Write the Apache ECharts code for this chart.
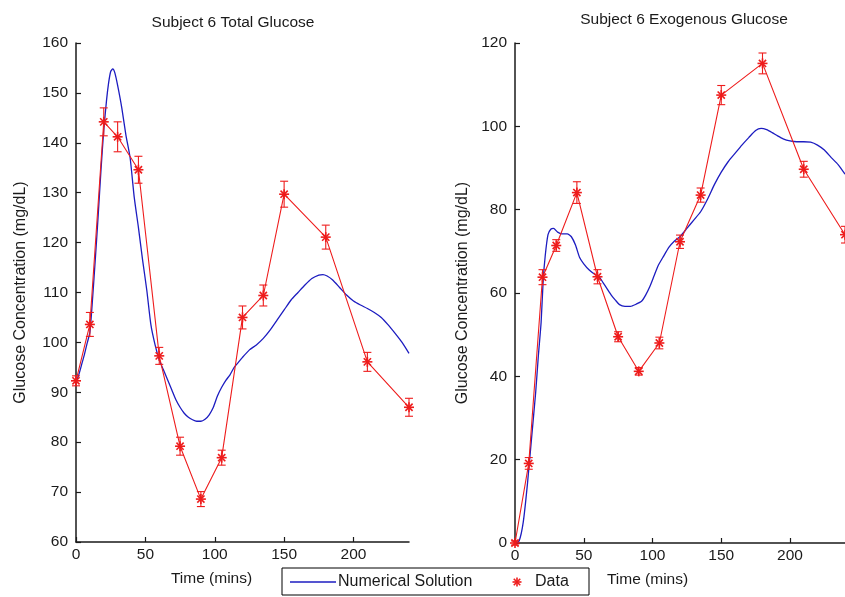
<!DOCTYPE html>
<html>
<head>
<meta charset="utf-8">
<script src="https://cdn.jsdelivr.net/npm/echarts@6/dist/echarts.min.js"></script>
<style>
  html, body { margin: 0; padding: 0; background: #fff; }
  #chart { width: 845px; height: 597px; }
</style>
</head>
<body>
<div id="chart"></div>
<script>
// Sampling times of the measured data (minutes)
const sampleTimes = [0, 10, 20, 30, 45, 60, 75, 90, 105, 120, 135, 150, 180, 210, 240];

// Total glucose: measured values and error bar half-widths (mg/dL)
const totalData = [92.3, 103.6, 144.2, 141.2, 134.6, 97.3, 79.2, 68.6, 76.9, 105.0, 109.4, 129.7, 121.1, 96.1, 87.0];
const totalErr  = [1.0, 2.4, 2.8, 3.0, 2.7, 1.7, 1.8, 1.5, 1.5, 2.3, 2.1, 2.6, 2.4, 1.9, 1.8];

// Exogenous glucose: measured values and error bar half-widths (mg/dL)
const exoData = [0, 19.1, 63.8, 71.4, 84.1, 63.9, 49.5, 41.2, 48.0, 72.3, 83.5, 107.5, 115.1, 89.7, 74.0];
const exoErr  = [0.5, 1.4, 1.8, 1.4, 2.6, 1.7, 1.2, 0.9, 1.4, 1.6, 1.7, 2.3, 2.5, 1.9, 2.0];

// Numerical solution, total glucose
const modelTotalTime = [0, 2, 4, 6, 8, 10, 12, 14, 16, 18, 20, 22, 23.5, 25, 26.5, 28, 30, 33, 36, 39, 42, 45, 48, 51, 54, 57, 60, 63, 66, 69, 72, 75, 78, 81, 84, 87, 90, 93, 96, 99, 102, 105, 108, 111, 114, 117, 120, 125, 130, 135, 140, 145, 150, 155, 160, 165, 170, 175, 178, 181, 185, 190, 195, 200, 205, 210, 215, 220, 225, 230, 235, 240];
const modelTotal     = [92, 93.5, 95.5, 97.5, 99.8, 102, 109, 117, 125.5, 134.5, 142.5, 148.5, 152, 154.3, 154.8, 154, 151.5, 147, 141.5, 137, 129, 123, 116.5, 110.5, 103.5, 99.5, 96.5, 94.5, 92.5, 90.5, 88.5, 87, 85.8, 85, 84.5, 84.2, 84.2, 84.6, 85.5, 87, 89.3, 91, 92.4, 93.5, 95, 96, 97, 98.5, 99.5, 100.8, 102.5, 104.5, 106.5, 108.5, 110, 111.5, 112.8, 113.5, 113.6, 113.3, 112.5, 111, 109.5, 108.3, 107.5, 106.8, 106, 105, 103.5, 101.8, 100, 97.8];

// Numerical solution, exogenous glucose
const modelExoTime = [0, 3, 6, 9, 12, 15, 17, 19, 20.5, 22, 24, 26, 28, 31, 34, 38, 41, 44, 47, 50, 54, 58, 61, 64, 67, 70, 73, 76, 80, 84, 88, 92, 95, 98, 101, 104, 108, 112, 116, 120, 125, 130, 135, 140, 145, 150, 155, 160, 165, 170, 175, 179, 183, 187, 191, 195, 200, 205, 210, 215, 220, 225, 230, 235, 240];
const modelExo     = [0, 0.5, 5, 14, 25, 36, 45, 53, 63, 69, 74, 75.3, 75.5, 74.6, 74.2, 74.2, 73.5, 71.5, 68.5, 67, 65.5, 64.5, 64, 62.5, 61, 59.5, 58.3, 57.2, 56.8, 56.8, 57.3, 58, 59.5, 61.5, 64, 66.5, 68.8, 71, 72.5, 73.5, 75.5, 77.5, 79.5, 82.5, 86, 89, 91.5, 93.5, 95.5, 97.3, 99, 99.5, 99.2, 98.5, 97.7, 97, 96.5, 96.3, 96.3, 96.2, 95.5, 94.3, 92.5, 90.8, 88.5];

// Axis tick positions
const timeTicks = [0, 50, 100, 150, 200];

const FONT = 'Liberation Sans, Arial, Helvetica, sans-serif';
const RED = '#ee1c1c';
const BLUE = '#1c1cc0';
const INK = '#1a1a1a';

const zip2 = (xs, ys) => xs.map((x, i) => [x, ys[i]]);
const zip3 = (xs, ys, es) => xs.map((x, i) => [x, ys[i], es[i]]);

// Asterisk marker drawn as four crossing strokes
function asteriskLines(cx, cy, r, color, width) {
  const d = r * 0.72;
  const segs = [[-r, 0, r, 0], [0, -r, 0, r], [-d, -d, d, d], [-d, d, d, -d]];
  return segs.map(s => ({
    type: 'line',
    shape: { x1: cx + s[0], y1: cy + s[1], x2: cx + s[2], y2: cy + s[3] },
    style: { stroke: color, lineWidth: width }
  }));
}

// Error bars with caps plus asterisk markers
function errorBarItem(params, api) {
  const x = api.value(0), y = api.value(1), e = api.value(2);
  const c = api.coord([x, y]);
  const hi = api.coord([x, y + e]);
  const lo = api.coord([x, y - e]);
  const cap = 4;
  const st = { stroke: RED, lineWidth: 1.1 };
  const children = [
    { type: 'line', shape: { x1: c[0], y1: hi[1], x2: c[0], y2: lo[1] }, style: st },
    { type: 'line', shape: { x1: c[0] - cap, y1: hi[1], x2: c[0] + cap, y2: hi[1] }, style: st },
    { type: 'line', shape: { x1: c[0] - cap, y1: lo[1], x2: c[0] + cap, y2: lo[1] }, style: st }
  ].concat(asteriskLines(c[0], c[1], 5, RED, 1.6));
  return { type: 'group', children };
}

function xAxisDef(gridIndex, padRight) {
  return {
    type: 'value', gridIndex, min: 0, max: 240, interval: 50,
    name: 'Time (mins)', nameLocation: 'middle', nameGap: 29,
    nameTextStyle: { fontFamily: FONT, fontSize: 15.5, color: INK, padding: [0, padRight, 0, 0] },
    axisLine: { show: true, onZero: false, lineStyle: { color: INK, width: 1.5 } },
    axisTick: { show: true, inside: true, length: 5, customValues: timeTicks, lineStyle: { color: INK, width: 1.2 } },
    axisLabel: { customValues: timeTicks, margin: 5, fontFamily: FONT, fontSize: 15.5, color: INK },
    splitLine: { show: false }
  };
}

function yAxisDef(gridIndex, min, max, interval, gap) {
  return {
    type: 'value', gridIndex, min, max, interval,
    name: 'Glucose Concentration (mg/dL)', nameLocation: 'middle', nameGap: gap, nameRotate: 90,
    nameTextStyle: { fontFamily: FONT, fontSize: 16, color: INK },
    axisLine: { show: true, onZero: false, lineStyle: { color: INK, width: 1.5 } },
    axisTick: { show: true, inside: true, length: 5, lineStyle: { color: INK, width: 1.2 } },
    axisLabel: { margin: 8, fontFamily: FONT, fontSize: 15.5, color: INK },
    splitLine: { show: false }
  };
}

const chart = echarts.init(document.getElementById('chart'), null, { renderer: 'canvas' });

const legendY = 582;
chart.setOption({
  animation: false,
  backgroundColor: '#ffffff',
  title: [
    { text: 'Subject 6 Total Glucose', left: 233, top: 15, padding: 0, textAlign: 'center',
      textStyle: { fontFamily: FONT, fontSize: 15.5, fontWeight: 'normal', color: INK } },
    { text: 'Subject 6 Exogenous Glucose', left: 684, top: 12, padding: 0, textAlign: 'center',
      textStyle: { fontFamily: FONT, fontSize: 15.5, fontWeight: 'normal', color: INK } }
  ],
  grid: [
    { left: 76, top: 43, width: 333, height: 499 },
    { left: 515, top: 43, width: 335, height: 500 }
  ],
  xAxis: [xAxisDef(0, 62), xAxisDef(1, 65)],
  yAxis: [yAxisDef(0, 60, 160, 10, 47.5), yAxisDef(1, 0, 120, 20, 44)],
  series: [
    { type: 'line', name: 'Numerical Solution', xAxisIndex: 0, yAxisIndex: 0, smooth: 0.2,
      data: zip2(modelTotalTime, modelTotal), showSymbol: false, lineStyle: { color: BLUE, width: 1.3 } },
    { type: 'line', name: 'Data', xAxisIndex: 0, yAxisIndex: 0,
      data: zip2(sampleTimes, totalData), showSymbol: false, lineStyle: { color: RED, width: 1.1 } },
    { type: 'custom', xAxisIndex: 0, yAxisIndex: 0, clip: false,
      data: zip3(sampleTimes, totalData, totalErr), renderItem: errorBarItem, z: 5 },

    { type: 'line', name: 'Numerical Solution', xAxisIndex: 1, yAxisIndex: 1, smooth: 0.2,
      data: zip2(modelExoTime, modelExo), showSymbol: false, lineStyle: { color: BLUE, width: 1.3 } },
    { type: 'line', name: 'Data', xAxisIndex: 1, yAxisIndex: 1,
      data: zip2(sampleTimes, exoData), showSymbol: false, lineStyle: { color: RED, width: 1.1 } },
    { type: 'custom', xAxisIndex: 1, yAxisIndex: 1, clip: false,
      data: zip3(sampleTimes, exoData, exoErr), renderItem: errorBarItem, z: 5 }
  ],
  graphic: [
    { type: 'group', z: 100, children: [
      { type: 'rect', shape: { x: 282, y: 568, width: 307, height: 27 },
        style: { fill: '#ffffff', stroke: '#000000', lineWidth: 1 } },
      { type: 'line', shape: { x1: 290, y1: legendY, x2: 336, y2: legendY },
        style: { stroke: BLUE, lineWidth: 1.3 } },
      { type: 'text', x: 338, y: legendY,
        style: { text: 'Numerical Solution', font: '16px ' + FONT, fill: INK,
                 align: 'left', verticalAlign: 'middle', textAlign: 'left', textVerticalAlign: 'middle' } },
      { type: 'group', children: asteriskLines(517, legendY, 4.5, RED, 1.6) },
      { type: 'text', x: 535, y: legendY,
        style: { text: 'Data', font: '16px ' + FONT, fill: INK,
                 align: 'left', verticalAlign: 'middle', textAlign: 'left', textVerticalAlign: 'middle' } }
    ] }
  ]
});
</script>
</body>
</html>
